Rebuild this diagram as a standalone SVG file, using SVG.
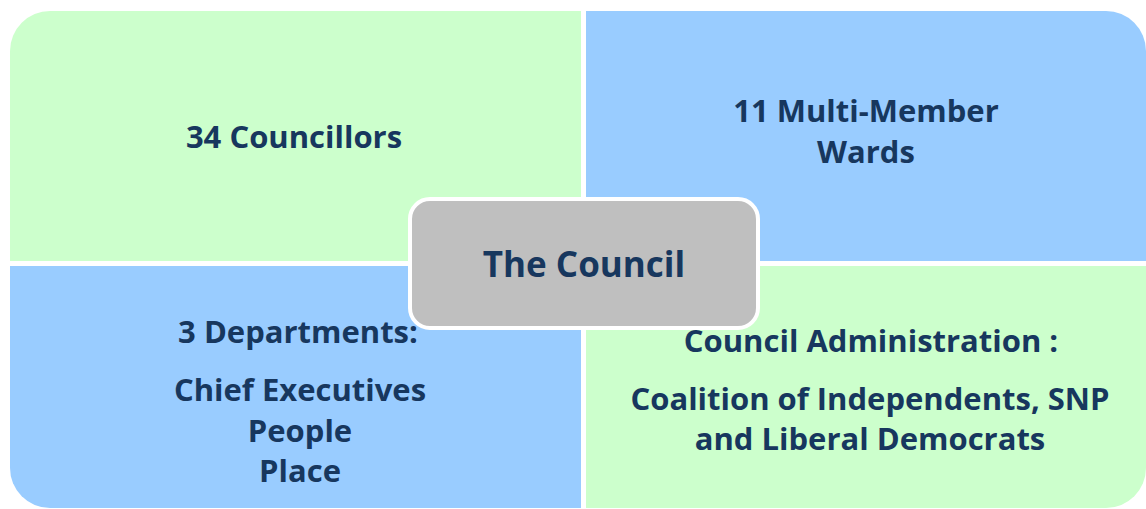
<svg xmlns="http://www.w3.org/2000/svg" width="1146" height="509" viewBox="0 0 1146 509">
<style>
.green{fill:#CCFFCC}
.blue{fill:#99CCFF}
.center{fill:#BFBFBF;stroke:#FFFFFF;stroke-width:4}
text{font-family:"Open Sans","Noto Sans",sans-serif;font-weight:bold;fill:#17375E;text-anchor:middle}
.t{font-size:31px}
.c{font-size:35px}
</style>
<rect width="1146" height="509" fill="#FFFFFF"/>
<g id="q-councillors">
<path class="green" d="M10,51 A40,40 0 0 1 50,11 H581 V261 H10 Z"/>
<text class="t" x="294" y="148">34 Councillors</text>
</g>
<g id="q-wards">
<path class="blue" d="M586,11 H1106 A40,40 0 0 1 1146,51 V261 H586 Z"/>
<text class="t" x="866" y="122">11 Multi-Member</text>
<text class="t" x="866" y="163">Wards</text>
</g>
<g id="q-departments">
<path class="blue" d="M10,266 H581 V508 H50 A40,40 0 0 1 10,468 Z"/>
<text class="t" x="298" y="343">3 Departments:</text>
<text class="t" x="300" y="401">Chief Executives</text>
<text class="t" x="300" y="442">People</text>
<text class="t" x="300" y="482">Place</text>
</g>
<g id="q-administration">
<path class="green" d="M586,266 H1146 V468 A40,40 0 0 1 1106,508 H586 Z"/>
<text class="t" x="871" y="352">Council Administration :</text>
<text class="t" x="870" y="410">Coalition of Independents, SNP</text>
<text class="t" x="870" y="450">and Liberal Democrats</text>
</g>
<g id="connectors"></g>
<g id="n-council">
<rect class="center" x="410" y="199" width="348" height="129" rx="20" ry="20"/>
<text class="c" x="584" y="277">The Council</text>
</g>
</svg>
